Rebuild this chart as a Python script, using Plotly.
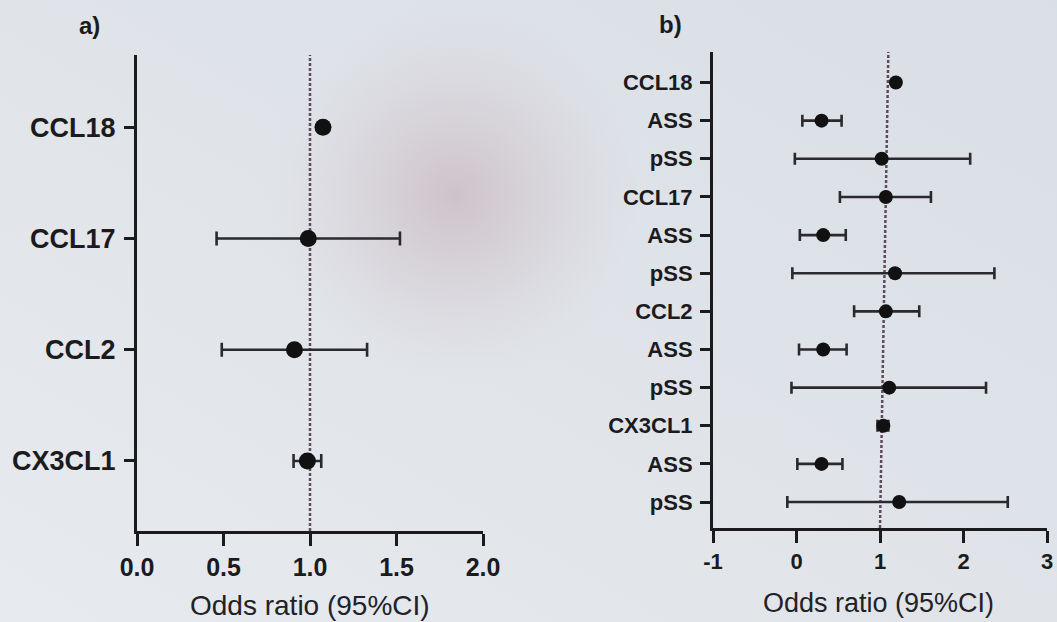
import base64
import plotly.graph_objects as go

# ---------------- data ----------------
a_labels = ["CCL18", "CCL17", "CCL2", "CX3CL1"]
a_or = [1.075, 0.99, 0.91, 0.985]
a_lo = [1.055, 0.46, 0.49, 0.905]
a_hi = [1.095, 1.52, 1.33, 1.065]

b_labels = ["CCL18", "ASS", "pSS", "CCL17", "ASS", "pSS",
            "CCL2", "ASS", "pSS", "CX3CL1", "ASS", "pSS"]
b_or = [1.19, 0.30, 1.02, 1.07, 0.32, 1.18, 1.07, 0.32, 1.11, 1.04, 0.30, 1.23]
b_lo = [1.17, 0.07, -0.02, 0.52, 0.04, -0.05, 0.69, 0.03, -0.06, 0.97, 0.01, -0.11]
b_hi = [1.21, 0.54, 2.08, 1.61, 0.59, 2.37, 1.47, 0.60, 2.27, 1.10, 0.55, 2.53]

a_xticks = [0, 0.5, 1.0, 1.5, 2.0]
a_xticktext = ["0.0", "0.5", "1.0", "1.5", "2.0"]
b_xticks = [-1, 0, 1, 2, 3]
b_xticktext = ["-1", "0", "1", "2", "3"]
ref_line = 1.0
x_title = "Odds ratio (95%CI)"

# ---------------- layout helpers ----------------
W, H = 1057, 622
FONT = "Liberation Sans, Arial, sans-serif"
INK = "#1b1b1d"

a_pos = list(range(len(a_labels), 0, -1))
b_pos = list(range(len(b_labels), 0, -1))

fig = go.Figure()

fig.add_trace(go.Scatter(
    x=a_or, y=a_pos, mode="markers", xaxis="x", yaxis="y",
    marker=dict(size=17, color="#111111", symbol="circle"),
    error_x=dict(type="data", symmetric=False,
                 array=[h - o for h, o in zip(a_hi, a_or)],
                 arrayminus=[o - l for o, l in zip(a_or, a_lo)],
                 thickness=2.6, width=7, color="#2a2a2e"),
    showlegend=False, hoverinfo="skip"))

fig.add_trace(go.Scatter(
    x=b_or, y=b_pos, mode="markers", xaxis="x2", yaxis="y2",
    marker=dict(size=14, color="#111111", symbol="circle"),
    error_x=dict(type="data", symmetric=False,
                 array=[h - o for h, o in zip(b_hi, b_or)],
                 arrayminus=[o - l for o, l in zip(b_or, b_lo)],
                 thickness=2.6, width=6, color="#2a2a2e"),
    showlegend=False, hoverinfo="skip"))

# background: soft light-grey screen with a faint pinkish glare blob
svg = (
    f'<svg xmlns="http://www.w3.org/2000/svg" width="{W}" height="{H}">'
    '<defs>'
    '<linearGradient id="l" x1="0" y1="1" x2="1" y2="0">'
    '<stop offset="0" stop-color="#e7eaee"/>'
    '<stop offset="0.5" stop-color="#e0e4e9"/>'
    '<stop offset="1" stop-color="#d9dfe6"/>'
    '</linearGradient>'
    '<radialGradient id="g" cx="455" cy="195" r="190" gradientUnits="userSpaceOnUse">'
    '<stop offset="0" stop-color="#cbbcc4" stop-opacity="0.85"/>'
    '<stop offset="0.5" stop-color="#d0c6cc" stop-opacity="0.45"/>'
    '<stop offset="1" stop-color="#d8d2d7" stop-opacity="0"/>'
    '</radialGradient>'
    '</defs>'
    f'<rect width="{W}" height="{H}" fill="url(#l)"/>'
    f'<rect width="{W}" height="{H}" fill="url(#g)"/>'
    '</svg>'
)
bg_src = "data:image/svg+xml;base64," + base64.b64encode(svg.encode()).decode()


def xaxis_cfg(dom, rng, ticks, text, size):
    return dict(domain=dom, range=rng, tickvals=ticks, ticktext=text,
                showline=True, linewidth=3, linecolor=INK, ticks="outside",
                ticklen=12, tickwidth=3, tickcolor=INK, showgrid=False,
                zeroline=False, mirror=False, ticklabelstandoff=0,
                automargin=False,
                tickfont=dict(family=FONT, size=size, color=INK, weight="bold"))


def yaxis_cfg(dom, rng, pos, labels, size):
    return dict(domain=dom, range=rng, tickvals=pos, ticktext=labels,
                showline=True, linewidth=3, linecolor=INK, ticks="outside",
                ticklen=10, tickwidth=3, tickcolor=INK, showgrid=False,
                zeroline=False, ticklabelstandoff=3, automargin=False,
                tickfont=dict(family=FONT, size=size, color=INK, weight="bold"))


fig.update_layout(
    width=W, height=H, margin=dict(l=0, r=0, t=0, b=0, pad=0),
    paper_bgcolor="#e0e4e9", plot_bgcolor="rgba(0,0,0,0)",
    xaxis=xaxis_cfg([137 / W, 483 / W], [0, 2], a_xticks, a_xticktext, 25) | dict(anchor="y"),
    yaxis=yaxis_cfg([1 - 531 / H, 1 - 55 / H], [0.37, 4.65], a_pos, a_labels, 27) | dict(anchor="x"),
    xaxis2=xaxis_cfg([713 / W, 1047 / W], [-1, 3], b_xticks, b_xticktext, 22) | dict(anchor="y2"),
    yaxis2=yaxis_cfg([1 - 528 / H, 1 - 52 / H], [0.32, 12.8], b_pos, b_labels, 22) | dict(anchor="x2"),
    images=[dict(source=bg_src, xref="paper", yref="paper", x=0, y=1,
                 sizex=1, sizey=1, xanchor="left", yanchor="top",
                 sizing="stretch", layer="below")],
    shapes=[
        dict(type="line", xref="x", yref="y domain", x0=ref_line, x1=ref_line,
             y0=0, y1=1, line=dict(color="#5e4a5a", width=2.5, dash="3px,2px"),
             layer="below"),
        dict(type="line", xref="x2", yref="y2 domain", x0=ref_line, x1=ref_line + 0.1,
             y0=0, y1=1, line=dict(color="#5e4a5a", width=2.5, dash="3px,2px"),
             layer="below"),
    ],
    annotations=[
        dict(text="a)", xref="paper", yref="paper", x=89 / W, y=1 - 25 / H,
             showarrow=False, xanchor="center", yanchor="middle",
             font=dict(family=FONT, size=24, color=INK, weight="bold")),
        dict(text="b)", xref="paper", yref="paper", x=670 / W, y=1 - 24 / H,
             showarrow=False, xanchor="center", yanchor="middle",
             font=dict(family=FONT, size=24, color=INK, weight="bold")),
        dict(text=x_title, xref="paper", yref="paper", x=310 / W, y=1 - 605 / H,
             showarrow=False, xanchor="center", yanchor="middle",
             font=dict(family=FONT, size=28, color="#222226")),
        dict(text=x_title, xref="paper", yref="paper", x=878 / W, y=1 - 603 / H,
             showarrow=False, xanchor="center", yanchor="middle",
             font=dict(family=FONT, size=27, color="#222226")),
    ],
)

fig.write_html("out.html")
